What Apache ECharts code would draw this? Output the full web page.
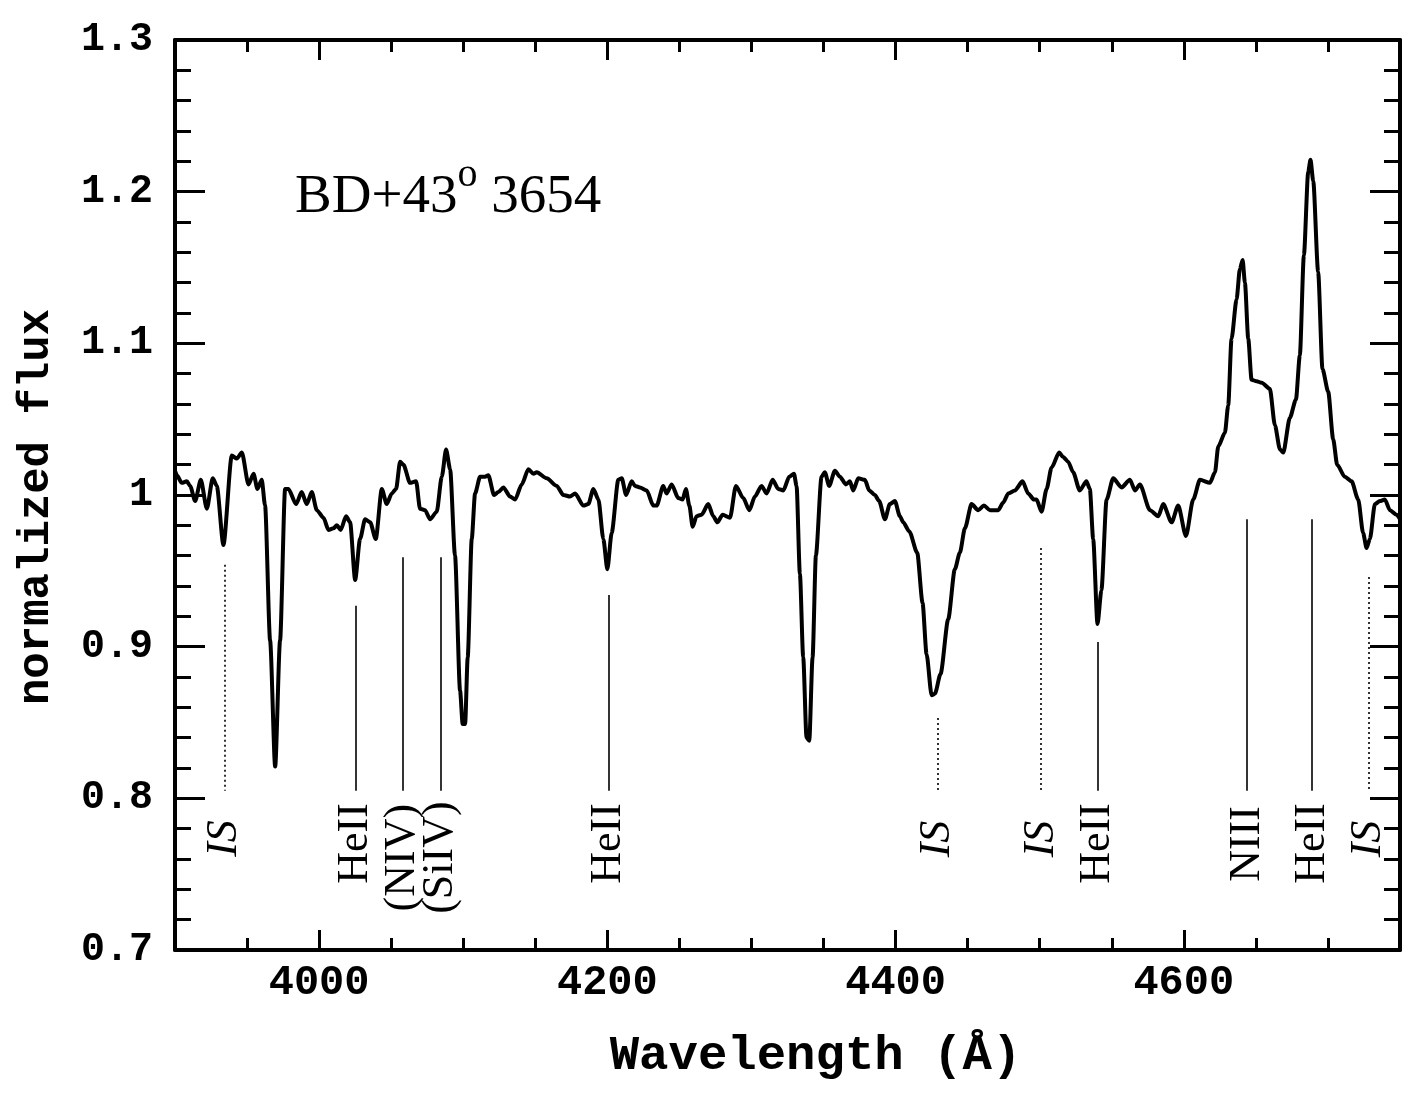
<!DOCTYPE html>
<html>
<head>
<meta charset="utf-8">
<script src="https://cdn.jsdelivr.net/npm/echarts@6/dist/echarts.min.js"></script>
<style>
  html, body { margin: 0; padding: 0; background: #fff; }
  #chart { width: 1406px; height: 1100px; }
</style>
</head>
<body>
<div id="chart"></div>
<script>
// spectrum
var wavelength = [
  3900.0, 3901.3, 3904.7, 3908.2, 3910.5, 3914.0, 3917.9, 3922.1, 3926.2, 3929.0,
  3933.6, 3939.4, 3942.9, 3946.4, 3951.0, 3954.5, 3957.2, 3960.2, 3962.5, 3966.0,
  3969.5, 3972.9, 3976.4, 3978.7, 3984.0, 3987.9, 3991.4, 3994.9, 3998.4, 4003.0,
  4006.5, 4009.9, 4012.3, 4015.0, 4018.7, 4021.5, 4025.0, 4028.4, 4031.9, 4035.4,
  4039.3, 4043.5, 4046.9, 4050.4, 4053.4, 4056.2, 4058.5, 4063.1, 4067.3, 4070.0,
  4073.5, 4077.0, 4081.6, 4085.1, 4088.1, 4090.9, 4094.3, 4097.8, 4099.6, 4101.3,
  4103.1, 4105.9, 4108.2, 4111.7, 4115.1, 4117.4, 4121.4, 4124.4, 4127.9, 4132.5,
  4136.0, 4140.6, 4145.2, 4148.7, 4151.0, 4157.9, 4164.9, 4169.5, 4174.1, 4177.6,
  4183.4, 4186.8, 4190.3, 4193.8, 4197.2, 4200.0, 4203.0, 4207.6, 4210.0, 4213.0,
  4216.9, 4219.2, 4222.6, 4227.3, 4231.9, 4234.2, 4238.8, 4241.1, 4244.6, 4249.2,
  4252.2, 4254.5, 4256.9, 4259.2, 4261.9, 4265.4, 4270.0, 4273.5, 4276.3, 4280.0,
  4285.1, 4289.2, 4294.3, 4298.5, 4302.4, 4307.0, 4310.5, 4314.7, 4318.6, 4322.1,
  4326.2, 4329.5, 4331.3, 4333.6, 4335.9, 4338.2, 4340.1, 4342.4, 4344.7, 4348.6,
  4350.9, 4353.9, 4357.9, 4361.4, 4365.5, 4368.3, 4370.6, 4374.1, 4378.7, 4381.7,
  4385.6, 4388.6, 4392.6, 4396.0, 4399.5, 4403.0, 4405.3, 4409.5, 4415.0, 4418.7,
  4421.5, 4425.0, 4427.3, 4431.2, 4436.5, 4441.1, 4444.6, 4448.1, 4452.7, 4457.3,
  4461.3, 4465.5, 4471.2, 4474.7, 4478.2, 4482.8, 4488.1, 4492.0, 4496.0, 4497.8,
  4501.3, 4504.8, 4508.2, 4513.5, 4516.3, 4519.7, 4523.2, 4527.8, 4532.4, 4534.8,
  4537.1, 4540.1, 4542.8, 4546.4, 4551.0, 4556.8, 4562.6, 4566.1, 4569.5, 4576.5,
  4582.3, 4585.7, 4591.5, 4596.1, 4601.5, 4606.5, 4611.2, 4618.1, 4621.6, 4623.9,
  4628.5, 4630.8, 4633.1, 4636.6, 4638.9, 4640.8, 4642.4, 4644.7, 4647.0, 4650.5,
  4654.0, 4659.7, 4663.2, 4666.7, 4669.0, 4673.6, 4677.8, 4680.5, 4683.3, 4686.3,
  4687.9, 4689.8, 4693.2, 4696.2, 4700.2, 4703.6, 4706.4, 4711.7, 4716.4, 4721.0,
  4724.4, 4726.8, 4729.1, 4732.6, 4736.0, 4739.5, 4743.0, 4747.6, 4750.0
];
var flux = [
  1.016, 1.013, 1.008, 1.009, 1.006, 0.996, 1.010, 0.991, 1.011, 1.006,
  0.967, 1.026, 1.024, 1.028, 1.007, 1.014, 1.004, 1.010, 0.993, 0.904,
  0.821, 0.904, 1.004, 1.004, 0.994, 1.002, 0.994, 1.002, 0.990, 0.985,
  0.977, 0.978, 0.980, 0.977, 0.986, 0.982, 0.944, 0.971, 0.984, 0.982,
  0.971, 1.004, 0.994, 1.001, 1.004, 1.022, 1.020, 1.008, 1.009, 0.991,
  0.990, 0.984, 0.989, 1.012, 1.030, 1.017, 0.960, 0.871, 0.849, 0.849,
  0.893, 0.971, 1.001, 1.012, 1.012, 1.013, 1.000, 1.002, 1.005, 0.999,
  0.997, 1.007, 1.017, 1.014, 1.015, 1.011, 1.006, 1.000, 0.999, 1.001,
  0.993, 0.994, 1.004, 0.997, 0.971, 0.951, 0.975, 1.010, 1.011, 1.000,
  1.009, 1.006, 1.005, 1.003, 0.993, 0.993, 1.006, 1.001, 1.007, 0.998,
  0.997, 1.004, 0.993, 0.979, 0.986, 0.987, 0.994, 0.986, 0.982, 0.987,
  0.985, 1.006, 0.998, 0.990, 0.999, 1.006, 1.001, 1.010, 1.004, 1.003,
  1.012, 1.014, 1.006, 0.948, 0.893, 0.840, 0.838, 0.893, 0.960, 1.012,
  1.015, 1.006, 1.016, 1.012, 1.007, 1.009, 1.003, 1.011, 1.010, 1.003,
  1.000, 0.996, 0.984, 0.994, 0.996, 0.986, 0.982, 0.976, 0.962, 0.929,
  0.895, 0.868, 0.869, 0.882, 0.918, 0.951, 0.962, 0.978, 0.994, 0.990,
  0.993, 0.990, 0.990, 0.995, 1.001, 1.003, 1.009, 1.001, 0.997, 0.997,
  0.989, 1.004, 1.018, 1.028, 1.025, 1.022, 1.015, 1.003, 1.009, 1.004,
  0.971, 0.915, 0.937, 0.997, 1.011, 1.005, 1.010, 1.003, 1.007, 0.990,
  0.986, 0.994, 0.982, 0.993, 0.973, 0.997, 1.010, 1.008, 1.015, 1.032,
  1.041, 1.059, 1.103, 1.129, 1.149, 1.155, 1.140, 1.103, 1.076, 1.075,
  1.074, 1.070, 1.046, 1.030, 1.028, 1.051, 1.063, 1.092, 1.158, 1.213,
  1.221, 1.207, 1.147, 1.083, 1.068, 1.037, 1.020, 1.012, 1.009, 0.997,
  0.975, 0.965, 0.971, 0.994, 0.996, 0.997, 0.990, 0.987, 0.984
];

// line identifications
var idNames  = ['IS', 'HeII', '(NIV)', '(SiIV)', 'HeII', 'IS', 'IS', 'HeII', 'NIII', 'HeII', 'IS'];
var idWave   = [3934.5, 4025.5, 4058, 4084.5, 4201, 4429, 4501, 4540, 4644, 4689, 4728];
var idTop    = [0.954, 0.927, 0.959, 0.959, 0.934, 0.853, 0.965, 0.903, 0.984, 0.984, 0.946];
var idBottom = 0.805;
var idLabelY = [0.7735, 0.7703, 0.7609, 0.7609, 0.7703, 0.7732, 0.7732, 0.7703, 0.7699, 0.7703, 0.7732];

var xMajor = [4000, 4200, 4400, 4600];

var tickFont = 'Liberation Mono';
var serif = 'Liberation Serif';

function isInterstellar(name) { return name === 'IS'; }

var markData = idWave.map(function (w, i) {
  return [
    { coord: [w, idTop[i]], lineStyle: { type: isInterstellar(idNames[i]) ? [2, 3] : 'solid' } },
    { coord: [w, idBottom] }
  ];
});

var labelData = idWave.map(function (w, i) {
  return {
    value: [w, idLabelY[i]],
    label: {
      formatter: idNames[i],
      color: '#000',
      fontStyle: isInterstellar(idNames[i]) ? 'italic' : 'normal'
    }
  };
});

function xAxisPair(pos, withLabels) {
  return [
    {
      type: 'value', position: pos, min: 3900, max: 4750, interval: 50,
      axisLine: { show: true, onZero: false, lineStyle: { color: '#000', width: 4 } },
      axisTick: { show: true, inside: true, length: 12, lineStyle: { color: '#000', width: 3 } },
      axisLabel: { show: false },
      splitLine: { show: false }
    },
    {
      type: 'value', position: pos, min: 3900, max: 4750,
      axisLine: { show: false, onZero: false },
      axisTick: { show: true, inside: true, length: 20, customValues: xMajor, lineStyle: { color: '#000', width: 3 } },
      axisLabel: {
        show: withLabels, customValues: xMajor, margin: 12,
        fontFamily: tickFont, fontWeight: 'bold', fontSize: 42, color: '#000',
        formatter: function (v) { return String(v); }
      },
      splitLine: { show: false },
      name: withLabels ? 'Wavelength (\u00C5)' : '',
      nameLocation: 'middle', nameGap: 82,
      nameTextStyle: {
        fontFamily: tickFont, fontWeight: 'bold', fontSize: 49, color: '#000',
        padding: [0, 0, 0, 56]
      }
    }
  ];
}

function yAxisPair(pos, withLabels) {
  return [
    {
      type: 'value', position: pos, min: 0.7, max: 1.3, interval: 0.02,
      axisLine: { show: true, onZero: false, lineStyle: { color: '#000', width: 4 } },
      axisTick: { show: true, inside: true, length: 16, lineStyle: { color: '#000', width: 3 } },
      axisLabel: { show: false },
      splitLine: { show: false }
    },
    {
      type: 'value', position: pos, min: 0.7, max: 1.3, interval: 0.1,
      axisLine: { show: false, onZero: false },
      axisTick: { show: true, inside: true, length: 30, lineStyle: { color: '#000', width: 3 } },
      axisLabel: {
        show: withLabels, margin: 22,
        fontFamily: tickFont, fontWeight: 'bold', fontSize: 40, color: '#000',
        formatter: function (v) { return String(Math.round(v * 10) / 10); }
      },
      splitLine: { show: false },
      name: withLabels ? 'normalized flux' : '',
      nameLocation: 'middle', nameGap: 116,
      nameTextStyle: {
        fontFamily: tickFont, fontWeight: 'bold', fontSize: 44, color: '#000',
        padding: [0, 24, 0, 0]
      }
    }
  ];
}

var chart = echarts.init(document.getElementById('chart'));

var option = {
  backgroundColor: '#fff',
  animation: false,
  title: {
    text: '{a|BD+43}{s|o}{a| 3654}',
    left: 290, top: 150,
    textStyle: {
      fontWeight: 'normal',
      rich: {
        a: { fontFamily: serif, fontWeight: 'normal', fontSize: 55, color: '#000', verticalAlign: 'bottom' },
        s: { fontFamily: serif, fontWeight: 'normal', fontSize: 40, color: '#000', verticalAlign: 'bottom', padding: [0, 0, 30, 0] }
      }
    }
  },
  grid: { left: 175, right: 6, top: 40, bottom: 150, containLabel: false },
  xAxis: xAxisPair('bottom', true).concat(xAxisPair('top', false)),
  yAxis: yAxisPair('left', true).concat(yAxisPair('right', false)),
  series: [
    {
      name: 'flux',
      type: 'line',
      xAxisIndex: 0, yAxisIndex: 0,
      data: wavelength.map(function (w, i) { return [w, flux[i]]; }),
      showSymbol: false,
      smooth: 0.25,
      smoothMonotone: 'x',
      lineStyle: { color: '#000', width: 4 },
      z: 3,
      markLine: {
        silent: true,
        symbol: ['none', 'none'],
        label: { show: false },
        lineStyle: { color: '#000', width: 1.6, type: 'solid' },
        data: markData
      }
    },
    {
      name: 'ids',
      type: 'scatter',
      xAxisIndex: 0, yAxisIndex: 0,
      symbolSize: 0,
      silent: true,
      itemStyle: { color: '#000', opacity: 0 },
      label: {
        show: true, position: 'inside', rotate: 90,
        align: 'center', verticalAlign: 'middle',
        fontFamily: serif, fontSize: 44, color: '#000',
        opacity: 1,
        textBorderWidth: 0, textBorderColor: 'transparent'
      },
      data: labelData
    }
  ]
};

chart.setOption(option);
</script>
</body>
</html>
